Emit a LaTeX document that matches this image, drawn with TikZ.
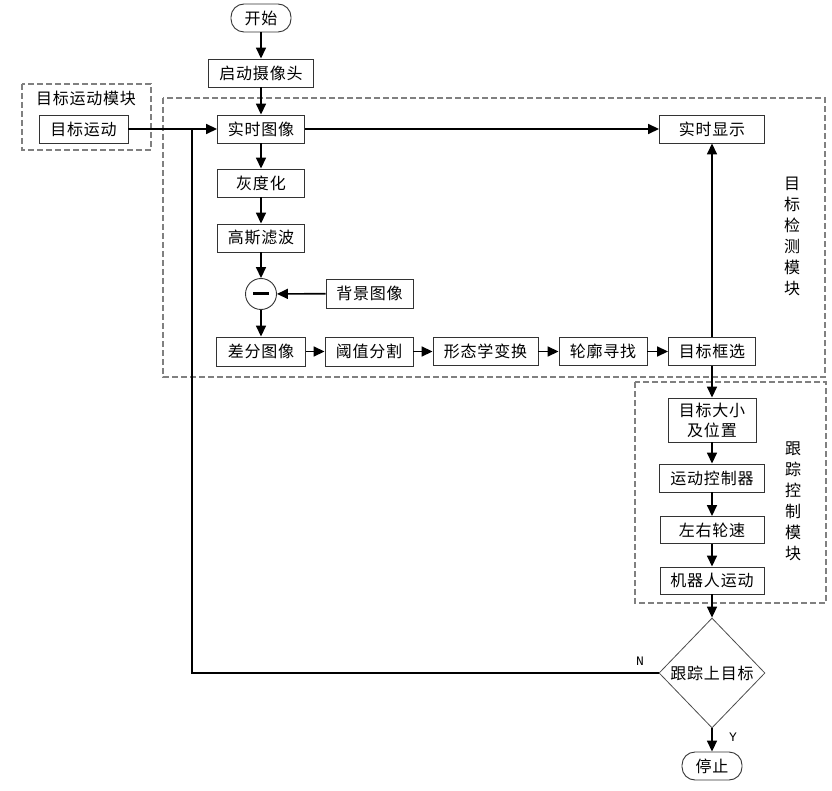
\documentclass[tikz,border=0pt]{standalone}
\usepackage{fontspec}
\setmainfont{Noto Sans CJK SC}[LetterSpace=5]
\newfontfamily\latinmono{Liberation Mono}
\usetikzlibrary{arrows.meta,shapes.geometric}
\tikzset{
  box/.style={draw=black!80, line width=0.9pt, rectangle, minimum height=28pt, inner sep=0pt, font=\fontsize{16}{20}\selectfont},
  term/.style={box, rounded corners=13pt, minimum width=60pt},
  conn/.style={line width=1.6pt, black},
  arr/.style={conn, -{Triangle[length=11pt,width=10pt]}},
  grp/.style={draw=black!50, line width=1.3pt, dash pattern=on 6pt off 3pt},
  lab/.style={font=\fontsize{16}{21}\selectfont, align=center, inner sep=0pt},
  yn/.style={font=\latinmono\fontsize{13}{14}\selectfont, inner sep=0pt}
}
\begin{document}
\begin{tikzpicture}[x=1pt,y=-1pt]
\useasboundingbox (0,0) rectangle (832,791);
% group frames
\draw[grp] (22,84) rectangle (151,150);
\draw[grp] (163,98) rectangle (825,377);
\draw[grp] (635,382) rectangle (826,603);
\node[lab] (lmov) at (86,98) {目标运动模块};
\node[lab] (ldet) at (792,236) {目\\标\\检\\测\\模\\块};
\node[lab] (ltrk) at (793,501) {跟\\踪\\控\\制\\模\\块};
% nodes
\node[term] (start) at (261,18) {开始};
\node[box, minimum width=105pt] (cam) at (261,73) {启动摄像头};
\node[box, minimum width=89pt] (mov) at (83.5,129) {目标运动};
\node[box, minimum width=87pt] (rt) at (261,129) {实时图像};
\node[box, minimum width=87pt] (gray) at (261,183) {灰度化};
\node[box, minimum width=87pt] (gauss) at (261,238) {高斯滤波};
\node[draw=black!80, line width=0.9pt, circle, minimum size=31pt, inner sep=0pt] (sub) at (261,294) {};
\draw[line width=3pt] ([xshift=-8pt]sub.center) -- ([xshift=8pt]sub.center);
\node[box, minimum width=87pt, minimum height=29pt] (bg) at (369.5,293.5) {背景图像};
\node[box, minimum width=89pt, minimum height=29pt] (diff) at (261,351.5) {差分图像};
\node[box, minimum width=88pt, minimum height=29pt] (thr) at (369,351.5) {阈值分割};
\node[box, minimum width=105pt] (morph) at (485.5,351.5) {形态学变换};
\node[box, minimum width=88pt] (cont) at (603,351.5) {轮廓寻找};
\node[box, minimum width=87pt] (sel) at (712,351.5) {目标框选};
\node[box, minimum width=105pt] (disp) at (712,129) {实时显示};
\node[box, minimum width=88pt, minimum height=44pt, align=center] (size) at (712,420) {目标大小\\及位置};
\node[box, minimum width=105pt] (ctrl) at (712,478) {运动控制器};
\node[box, minimum width=104pt, minimum height=27pt] (wheel) at (712,530) {左右轮速};
\node[box, minimum width=104pt, minimum height=27pt] (robot) at (712,580.5) {机器人运动};
\node[draw=black!70, line width=0.8pt, diamond, minimum width=106pt, minimum height=110pt, inner sep=0pt] (dec) at (712,673) {};
\node[lab] (dect) at (712,673) {跟踪上目标};
\node[term, minimum height=28pt] (stop) at (712,766) {停止};
\node[yn] (nl) at (640,661) {N};
\node[yn] (yl) at (733,737) {Y};
\coordinate (jn) at (192,129);
% connectors
\draw[arr] (start) -- (cam);
\draw[arr] (cam) -- (rt);
\draw[arr] (mov) -- (rt);
\draw[arr] (rt) -- (gray);
\draw[arr] (gray) -- (gauss);
\draw[arr] (gauss) -- (sub);
\draw[arr] (bg) -- (sub);
\draw[arr] (sub) -- (diff);
\draw[arr] (diff) -- (thr);
\draw[arr] (thr) -- (morph);
\draw[arr] (morph) -- (cont);
\draw[arr] (cont) -- (sel);
\draw[arr] (rt) -- (disp);
\draw[arr] (sel) -- (disp);
\draw[arr] (sel) -- (size);
\draw[arr] (size) -- (ctrl);
\draw[arr] (ctrl) -- (wheel);
\draw[arr] (wheel) -- (robot);
\draw[arr] (robot) -- (dec.north);
\draw[arr] (dec.south) -- (stop);
\draw[conn] (dec.west) -| (jn);
\end{tikzpicture}
\end{document}
